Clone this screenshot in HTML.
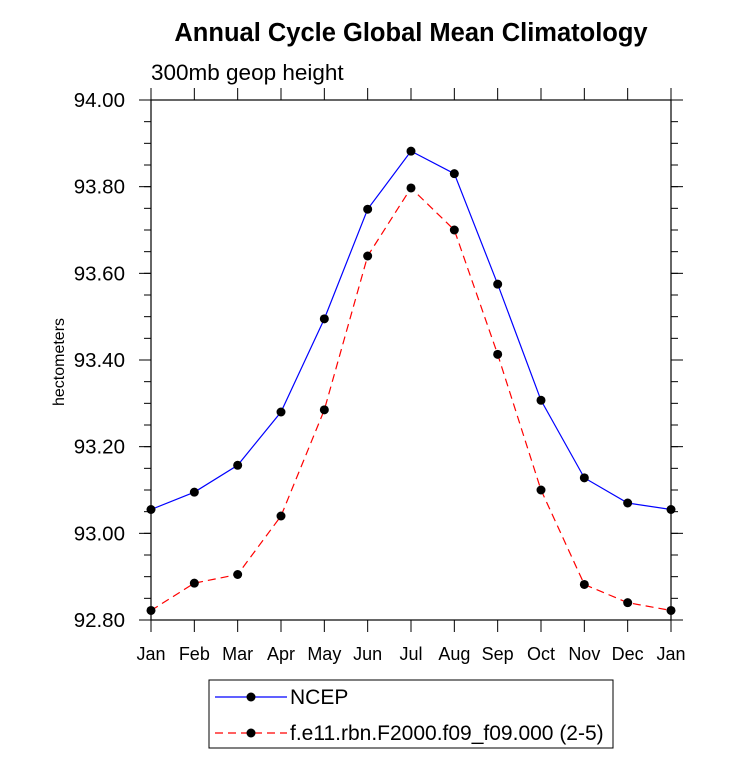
<!DOCTYPE html>
<html><head><meta charset="utf-8"><style>body{margin:0;background:#fff}svg{display:block;font-family:"Liberation Sans",Arial,sans-serif}</style></head>
<body>
<svg id="c" width="733" height="770">
<text x="411" y="41" text-anchor="middle" font-size="25.5" font-weight="bold">Annual Cycle Global Mean Climatology</text>
<text x="151" y="80" font-size="22.5">300mb geop height</text>
<text transform="translate(64,362) rotate(-90)" text-anchor="middle" font-size="16">hectometers</text>
<g id="axes"></g><g id="series"></g>
<rect x="209" y="680" width="404" height="68" fill="none" stroke="#000" stroke-width="1"/>
</svg>
<script>
const months=["Jan","Feb","Mar","Apr","May","Jun","Jul","Aug","Sep","Oct","Nov","Dec","Jan"];
const ncep=[93.055,93.095,93.157,93.28,93.495,93.748,93.882,93.83,93.575,93.307,93.128,93.07,93.055];
const model=[92.822,92.885,92.905,93.04,93.285,93.64,93.797,93.70,93.413,93.10,92.882,92.84,92.822];
const yTicks=[92.8,93.0,93.2,93.4,93.6,93.8,94.0];
const seriesNames=["NCEP","f.e11.rbn.F2000.f09_f09.000 (2-5)"];
const NS="http://www.w3.org/2000/svg";
const L=151,R=671,T=100,B=620,ymin=92.8,ymax=94.0;
const xs=i=>L+(R-L)*i/(months.length-1);
const ys=v=>B-(v-ymin)/(ymax-ymin)*(B-T);
function mk(tag,at,parent){const e=document.createElementNS(NS,tag);for(const k in at)e.setAttribute(k,at[k]);parent.appendChild(e);return e;}
const ax=document.getElementById('axes'),se=document.getElementById('series');
let f=mk('rect',{x:L,y:T,width:R-L,height:B-T,fill:'none',stroke:'#000','stroke-width':1.2},ax);


months.forEach((m,i)=>{const x=xs(i);
 mk('line',{x1:x,x2:x,y1:B,y2:B+12,stroke:'#000'},ax);
 mk('line',{x1:x,x2:x,y1:T,y2:T-12,stroke:'#000'},ax);
 const t=mk('text',{x:x,y:B+40,'text-anchor':'middle','font-size':18},ax);t.textContent=m;
 
 
});
yTicks.forEach(v=>{const y=ys(v);
 mk('line',{x1:L-12,x2:L,y1:y,y2:y,stroke:'#000'},ax);
 mk('line',{x1:R,x2:R+12,y1:y,y2:y,stroke:'#000'},ax);
 const t=mk('text',{x:L-26,y:y+7,'text-anchor':'end','font-size':20.5},ax);t.textContent=v.toFixed(2);
 
 
});
for(let v=ymin;v<ymax-1e-6;v+=0.05){const y=ys(v);
 mk('line',{x1:L-7,x2:L,y1:y,y2:y,stroke:'#000'},ax);
 mk('line',{x1:R,x2:R+7,y1:y,y2:y,stroke:'#000'},ax);}
function draw(vals,color,dash,name){
 const p=mk('polyline',{points:vals.map((v,i)=>xs(i)+','+ys(v)).join(' '),fill:'none',stroke:color,'stroke-width':1.2,'stroke-dasharray':dash},se);
 
 
 vals.forEach((v,i)=>{const c=mk('circle',{cx:xs(i),cy:ys(v),r:4.5,fill:'#000'},se);
  
  });
}
draw(ncep,'#00f','none','ncep');
draw(model,'#f00','8 5','model');
const svg=document.getElementById('c');
[[697,'#00f','none'],[733,'#f00','8 5']].forEach((d,k)=>{
 const l=mk('line',{x1:215,x2:287,y1:d[0],y2:d[0],stroke:d[1],'stroke-width':1.2,'stroke-dasharray':d[2]},svg);
 
 
 mk('circle',{cx:251,cy:d[0],r:4.5,fill:'#000'},svg);
 const t=mk('text',{x:290,y:d[0]+7,'font-size':21},svg);t.textContent=seriesNames[k];
 
 
});
</script>
</body></html>
